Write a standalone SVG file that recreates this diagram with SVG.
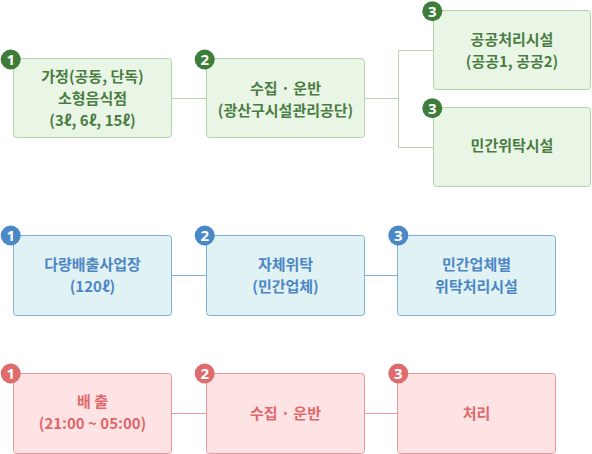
<svg xmlns="http://www.w3.org/2000/svg" width="592" height="454" viewBox="0 0 592 454">
<style>
text{font-family:"Noto Sans CJK KR","Noto Sans",sans-serif;font-size:15px;font-weight:700;text-anchor:middle}
.g rect{fill:#e9f6e6;stroke:#b3d5ab}
.g text{fill:#4b7c43}
.g circle{fill:#3e7c3a}
.b rect{fill:#e0f2f4;stroke:#7eb0de}
.b text{fill:#4d86c4}
.b circle{fill:#4a88c6}
.r rect{fill:#fee3e4;stroke:#e8979a}
.r text{fill:#e0676b}
.r circle{fill:#df6c6c}
rect{stroke-width:1}
text.n{fill:#fff;font-size:15px;font-weight:700;font-family:"Noto Sans","Liberation Sans",sans-serif}
.cg{stroke:#b3d5ab;fill:none}
.cb{stroke:#7eb0de;fill:none}
.cr{stroke:#e8979a;fill:none}
</style>
<g id="connectors">
<path class="cg" d="M171.5 98.5H206.5M364.5 98.5H398.5M398.5 50.5V147.5M398.5 50.5H433.5M398.5 147.5H433.5"/>
<path class="cb" d="M171.5 275.5H206.5M364.5 275.5H397.5"/>
<path class="cr" d="M171.5 413.5H206.5M364.5 413.5H397.5"/>
</g>
<g id="n1" class="g">
<rect x="13.5" y="58.5" width="158" height="79" rx="3"/>
<text x="92.5" y="82">가정(공동, 단독)</text>
<text x="92.5" y="104">소형음식점</text>
<text x="92.5" y="126">(3ℓ, 6ℓ, 15ℓ)</text>
<circle cx="10.7" cy="59.5" r="10"/><text class="n" x="10.7" y="65">1</text>
</g>
<g id="n2" class="g">
<rect x="206.5" y="58.5" width="158" height="79" rx="3"/>
<text x="285.5" y="94">수집 · 운반</text>
<text x="285.5" y="116">(광산구시설관리공단)</text>
<circle cx="204.7" cy="59.5" r="10"/><text class="n" x="204.7" y="65">2</text>
</g>
<g id="n3a" class="g">
<rect x="433.5" y="10.5" width="157" height="79" rx="3"/>
<text x="512" y="45">공공처리시설</text>
<text x="512" y="67">(공공1, 공공2)</text>
<circle cx="432.3" cy="11.2" r="10"/><text class="n" x="432.3" y="16.7">3</text>
</g>
<g id="n3b" class="g">
<rect x="433.5" y="107.5" width="157" height="79" rx="3"/>
<text x="512" y="151">민간위탁시설</text>
<circle cx="432.3" cy="108.2" r="10"/><text class="n" x="432.3" y="113.7">3</text>
</g>
<g id="b1" class="b">
<rect x="13.5" y="235.5" width="158" height="80" rx="3"/>
<text x="92.5" y="270">다량배출사업장</text>
<text x="92.5" y="292">(120ℓ)</text>
<circle cx="10.7" cy="235.5" r="10"/><text class="n" x="10.7" y="241">1</text>
</g>
<g id="b2" class="b">
<rect x="206.5" y="235.5" width="158" height="80" rx="3"/>
<text x="285.5" y="270">자체위탁</text>
<text x="285.5" y="292">(민간업체)</text>
<circle cx="204.7" cy="235.5" r="10"/><text class="n" x="204.7" y="241">2</text>
</g>
<g id="b3" class="b">
<rect x="397.5" y="235.5" width="158" height="80" rx="3"/>
<text x="476.5" y="270">민간업체별</text>
<text x="476.5" y="292">위탁처리시설</text>
<circle cx="398.3" cy="235.5" r="10"/><text class="n" x="398.3" y="241">3</text>
</g>
<g id="r1" class="r">
<rect x="13.5" y="373.5" width="158" height="80" rx="3"/>
<text x="92.5" y="407">배 출</text>
<text x="92.5" y="429">(21:00 ~ 05:00)</text>
<circle cx="10.7" cy="373.5" r="10"/><text class="n" x="10.7" y="379">1</text>
</g>
<g id="r2" class="r">
<rect x="206.5" y="373.5" width="158" height="80" rx="3"/>
<text x="285.5" y="419">수집  ·  운반</text>
<circle cx="204.7" cy="373.5" r="10"/><text class="n" x="204.7" y="379">2</text>
</g>
<g id="r3" class="r">
<rect x="397.5" y="373.5" width="158" height="80" rx="3"/>
<text x="476.5" y="419">처리</text>
<circle cx="398.3" cy="373.5" r="10"/><text class="n" x="398.3" y="379">3</text>
</g>
</svg>
